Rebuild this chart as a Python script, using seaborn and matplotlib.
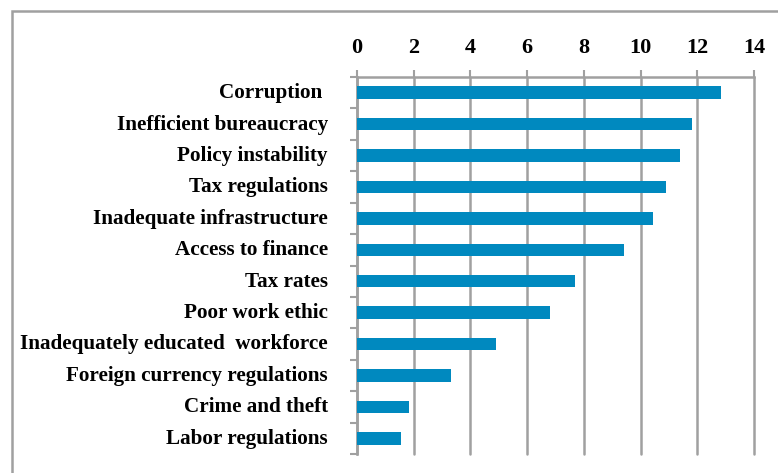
import matplotlib
matplotlib.use("Agg")
import matplotlib.pyplot as plt
import matplotlib.patches as mpatches
import matplotlib.transforms as mtransforms
import seaborn as sns
import numpy as np
import pandas as pd

categories = ["Corruption ", "Inefficient bureaucracy", "Policy instability", "Tax regulations",
              "Inadequate infrastructure", "Access to finance", "Tax rates", "Poor work ethic",
              "Inadequately educated  workforce", "Foreign currency regulations",
              "Crime and theft", "Labor regulations"]
values = [12.85, 11.8, 11.4, 10.9, 10.45, 9.4, 7.7, 6.8, 4.9, 3.3, 1.82, 1.54]
xticks = [0, 2, 4, 6, 8, 10, 12, 14]

sns.set_theme(style="white")
plt.rcParams['font.family'] = ['Liberation Serif', 'DejaVu Serif']

df = pd.DataFrame({"factor": categories, "score": values})

W, H = 778, 473
fig = plt.figure(figsize=(W / 100, H / 100), dpi=100)
ax = fig.add_axes([357 / W, 1 - 454 / H, (754 - 357) / W, (454 - 77) / H])

gray = "#A0A0A0"
bar_color = "#0089BF"

sns.barplot(data=df, x="score", y="factor", orient="h", color=bar_color,
            saturation=1, width=0.4, linewidth=0, ax=ax, zorder=3)

ax.set_xlim(0, 14)
ax.set_ylim(len(categories) - 0.5, -0.5)
ax.set_xlabel("")
ax.set_ylabel("")

ax.xaxis.tick_top()
ax.set_xticks(xticks)
ax.set_xticklabels([str(t) for t in xticks], fontsize=16, fontweight="bold", color="black")
ax.tick_params(axis="x", which="major", direction="out", length=5, width=1.5,
               color=gray, pad=9, top=True, bottom=False)

ax.set_yticks(np.arange(-0.5, len(categories), 1), minor=True)
ax.tick_params(axis="y", which="minor", direction="out", length=5, width=1.5,
               color=gray, left=True)
ax.tick_params(axis="y", which="major", length=0, pad=21)
shift = mtransforms.ScaledTranslation(0, 1.5 / 72, fig.dpi_scale_trans)
for lab in ax.get_yticklabels():
    lab.set_fontsize(15.2)
    lab.set_fontweight("bold")
    lab.set_color("black")
    lab.set_transform(lab.get_transform() + shift)

ax.grid(axis="x", color=gray, linewidth=1.8)
ax.grid(axis="y", visible=False)
ax.set_axisbelow(True)
for gl in ax.get_xgridlines():
    gl.set_clip_on(False)

for s in ["bottom", "right"]:
    ax.spines[s].set_visible(False)
for s in ["top", "left"]:
    ax.spines[s].set_visible(True)
    ax.spines[s].set_color(gray)
    ax.spines[s].set_linewidth(1.8)

border = mpatches.Rectangle((12 / W, -0.2), 1.2, 1.2 - 11 / H, transform=fig.transFigure,
                            fill=False, edgecolor=gray, linewidth=1.8)
fig.patches.append(border)

fig.savefig("out.png", dpi=100)
